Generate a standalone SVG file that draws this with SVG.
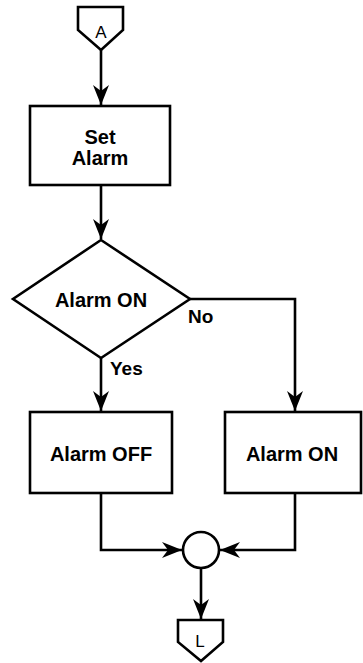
<svg xmlns="http://www.w3.org/2000/svg" width="363" height="663" viewBox="0 0 363 663">
<defs>
<marker id="ah" markerUnits="userSpaceOnUse" markerWidth="24" markerHeight="20" viewBox="-21 -10 22 20" refX="0" refY="0" orient="auto">
<path d="M0,0 L-20,-8 L-14,0 L-20,8 Z" fill="#000"/>
</marker>
<style>
.s{fill:#fff;stroke:#000;stroke-width:2.6}
.c{fill:none;stroke:#000;stroke-width:2.6}
.t{font-family:"Liberation Sans",Arial,sans-serif;font-size:20px;font-weight:bold;fill:#000;text-anchor:middle}
.l{font-family:"Liberation Sans",Arial,sans-serif;font-size:19px;font-weight:bold;fill:#000}
.o{font-family:"Liberation Sans",Arial,sans-serif;font-size:17px;fill:#000;text-anchor:middle}
</style>
</defs>
<rect width="363" height="663" fill="#fff"/>
<g id="connectors">
<path class="c" d="M101,50 V105" marker-end="url(#ah)"/>
<path class="c" d="M101,186 V239" marker-end="url(#ah)"/>
<path class="c" d="M101,358 V411" marker-end="url(#ah)"/>
<path class="c" d="M190,299 H295 V411" marker-end="url(#ah)"/>
<path class="c" d="M101,493 V550 H182" marker-end="url(#ah)"/>
<path class="c" d="M295,493 V550 H220" marker-end="url(#ah)"/>
<path class="c" d="M201,568 V619" marker-end="url(#ah)"/>
<text class="l" x="188" y="323">No</text>
<text class="l" x="110" y="375">Yes</text>
</g>
<g id="startA">
<path class="s" d="M78,7 H123 V30 L101,50 L78,30 Z"/>
<text class="o" x="101" y="38">A</text>
</g>
<g id="setAlarm">
<rect class="s" x="30" y="106" width="140" height="79"/>
<text class="t" x="100" y="144">Set</text>
<text class="t" x="100" y="165">Alarm</text>
</g>
<g id="decision">
<path class="s" d="M101,240 L190,299 L101,358 L13,299 Z"/>
<text class="t" x="101" y="307">Alarm ON</text>
</g>
<g id="alarmOff">
<rect class="s" x="30" y="412" width="142" height="81"/>
<text class="t" x="101" y="461">Alarm OFF</text>
</g>
<g id="alarmOn">
<rect class="s" x="225" y="412" width="136" height="81"/>
<text class="t" x="292" y="461">Alarm ON</text>
</g>
<g id="junction">
<circle class="s" cx="201" cy="550" r="18"/>
</g>
<g id="endL">
<path class="s" d="M178,620 H223 V642 L201,661 L178,642 Z"/>
<text class="o" x="200" y="647">L</text>
</g>
</svg>
